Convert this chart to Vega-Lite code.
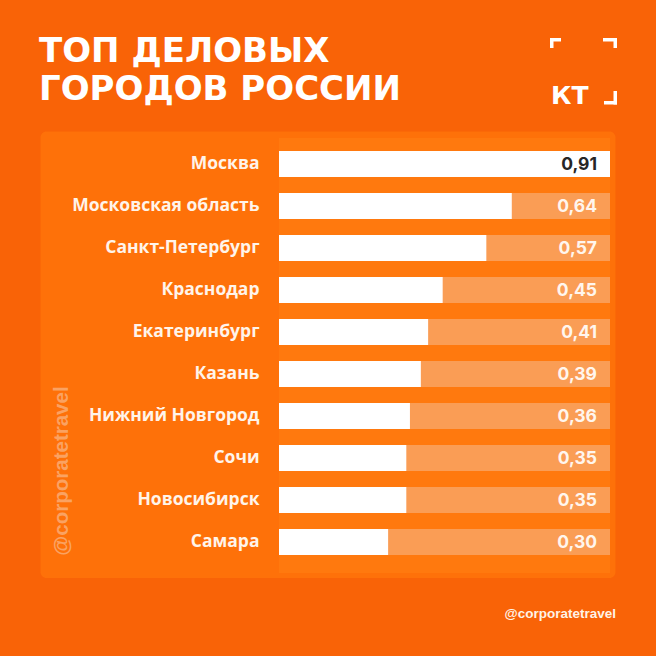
{
  "$schema": "https://vega.github.io/schema/vega-lite/v6.json",
  "autosize": "none",
  "width": 331,
  "height": 435,
  "padding": {"left": 279, "top": 138, "right": 46, "bottom": 83},
  "background": "#F96307",
  "config": {
    "view": {"stroke": null},
    "locale": {"number": {"decimal": ",", "thousands": " ", "grouping": [3], "currency": ["", " ₽"]}}
  },
  "data": {
    "values": [
      {"city": "Москва", "value": 0.91},
      {"city": "Московская область", "value": 0.64},
      {"city": "Санкт-Петербург", "value": 0.57},
      {"city": "Краснодар", "value": 0.45},
      {"city": "Екатеринбург", "value": 0.41},
      {"city": "Казань", "value": 0.39},
      {"city": "Нижний Новгород", "value": 0.36},
      {"city": "Сочи", "value": 0.35},
      {"city": "Новосибирск", "value": 0.35},
      {"city": "Самара", "value": 0.30}
    ]
  },
  "layer": [
    {
      "data": {"values": [{}]},
      "layer": [
        {
          "mark": {"type": "rect", "fill": "#FE7109", "cornerRadius": 6},
          "encoding": {
            "x": {"value": -238.5}, "x2": {"value": 336.5},
            "y": {"value": -6.5}, "y2": {"value": 440}
          }
        },
        {
          "mark": {"type": "rect", "fill": "#FF790E"},
          "encoding": {
            "x": {"value": 0}, "x2": {"value": 331},
            "y": {"value": 0}, "y2": {"value": 435}
          }
        },
        {
          "mark": {"type": "text", "text": ["ТОП ДЕЛОВЫХ", "ГОРОДОВ РОССИИ"], "font": "DejaVu Sans", "fontWeight": "bold", "fontSize": 34, "lineHeight": 38, "align": "left", "baseline": "alphabetic", "fill": "#FFFFFF"},
          "encoding": {"x": {"value": -240}, "y": {"value": -76}}
        },
        {
          "mark": {"type": "text", "text": "КТ", "font": "DejaVu Sans", "fontWeight": "bold", "fontSize": 25, "align": "left", "baseline": "alphabetic", "fill": "#FFFFFF"},
          "encoding": {"x": {"value": 272}, "y": {"value": -34}}
        },
        {"mark": {"type": "rect", "fill": "#FFFFFF"}, "encoding": {"x": {"value": 271}, "x2": {"value": 282}, "y": {"value": -100}, "y2": {"value": -96.5}}},
        {"mark": {"type": "rect", "fill": "#FFFFFF"}, "encoding": {"x": {"value": 271}, "x2": {"value": 274.5}, "y": {"value": -100}, "y2": {"value": -90}}},
        {"mark": {"type": "rect", "fill": "#FFFFFF"}, "encoding": {"x": {"value": 324}, "x2": {"value": 338}, "y": {"value": -100}, "y2": {"value": -96.5}}},
        {"mark": {"type": "rect", "fill": "#FFFFFF"}, "encoding": {"x": {"value": 334.5}, "x2": {"value": 338}, "y": {"value": -100}, "y2": {"value": -90}}},
        {"mark": {"type": "rect", "fill": "#FFFFFF"}, "encoding": {"x": {"value": 334.5}, "x2": {"value": 338}, "y": {"value": -47}, "y2": {"value": -33.5}}},
        {"mark": {"type": "rect", "fill": "#FFFFFF"}, "encoding": {"x": {"value": 325}, "x2": {"value": 338}, "y": {"value": -37}, "y2": {"value": -33.5}}},
        {
          "mark": {"type": "text", "text": "@corporatetravel", "font": "Liberation Sans", "fontWeight": "bold", "fontSize": 20.5, "angle": 270, "align": "center", "baseline": "alphabetic", "fill": "#FAA262"},
          "encoding": {"x": {"value": -211}, "y": {"value": 333}}
        },
        {
          "mark": {"type": "text", "text": "@corporatetravel", "font": "Liberation Sans", "fontWeight": "bold", "fontSize": 13.5, "align": "right", "baseline": "alphabetic", "fill": "#FFF3E6"},
          "encoding": {"x": {"value": 337}, "y": {"value": 479.5}}
        }
      ]
    },
    {
      "mark": {"type": "bar", "fill": "#FA9D55"},
      "encoding": {
        "y": {
          "field": "city", "type": "nominal", "sort": null,
          "scale": {"paddingInner": 0.38, "paddingOuter": 0.369, "align": 0.42},
          "axis": {"title": null, "domain": false, "ticks": false, "grid": false, "zindex": 1, "labelPadding": 20, "labelLimit": 260, "labelFont": "Open Sans", "labelFontSize": 17.5, "labelFontWeight": "bold", "labelColor": "#FFF4EA"}
        },
        "x": {"datum": 0, "type": "quantitative", "scale": {"domain": [0, 0.91], "nice": false}, "axis": null},
        "x2": {"datum": 0.91}
      }
    },
    {
      "mark": {"type": "bar", "fill": "#FFFFFF"},
      "encoding": {
        "y": {"field": "city", "type": "nominal", "sort": null},
        "x": {"field": "value", "type": "quantitative"}
      }
    },
    {
      "mark": {"type": "text", "align": "right", "baseline": "middle", "font": "Inter", "fontSize": 17.5, "fontWeight": "bold", "dy": 1},
      "encoding": {
        "y": {"field": "city", "type": "nominal", "sort": null},
        "x": {"value": 318},
        "text": {"field": "value", "type": "quantitative", "format": ".2f"},
        "fill": {"condition": {"test": "datum.value >= 0.9", "value": "#262626"}, "value": "#FFF6EE"}
      }
    }
  ]
}
